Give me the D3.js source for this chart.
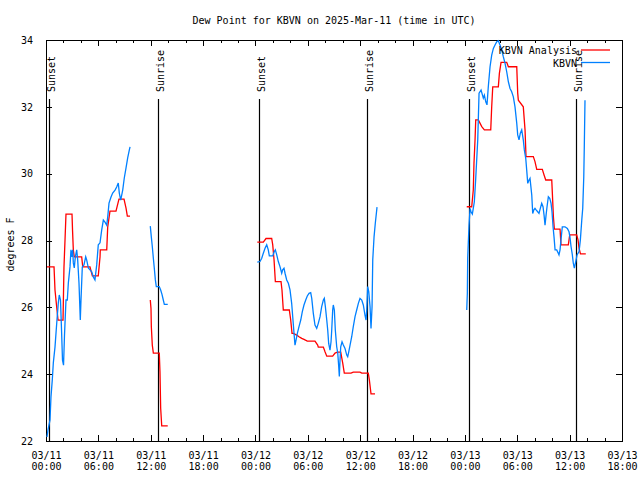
<!DOCTYPE html>
<html><head><meta charset="utf-8">
<script src="https://cdn.jsdelivr.net/npm/d3@7"></script>
<style>body{margin:0;background:#fff}text{font-family:"DejaVu Sans Mono",monospace;font-size:10px;fill:#000}</style>
</head><body><svg id="c" width="640" height="480"></svg>
<script>
const title = "Dew Point for KBVN on 2025-Mar-11 (time in UTC)";
const yLabel = "degrees F";
const seriesNames = ["KBVN Analysis", "KBVN"];
const xTickDates = ["03/11","03/11","03/11","03/11","03/12","03/12","03/12","03/12","03/13","03/13","03/13","03/13"];
const xTickTimes = ["00:00","06:00","12:00","18:00","00:00","06:00","12:00","18:00","00:00","06:00","12:00","18:00"];
const yTicks = [22,24,26,28,30,32,34];
const sunLabels = ["Sunset","Sunrise","Sunset","Sunrise","Sunset","Sunrise"];
const sunHours = [0.38,12.86,24.45,36.8,48.5,60.77];

// hours since 03/11 00:00 UTC; null breaks the line
const anaHours = [0.11,0.92,1.03,1.26,1.38,1.95,2.06,2.18,2.29,2.98,3.04,3.13,3.24,4.09,4.21,5.04,5.31,5.99,6.19,6.22,6.96,7.07,7.33,8.02,8.36,8.94,9.17,9.32,9.63,
 null,
 11.95,12.03,12.07,12.18,12.30,12.98,13.06,13.14,13.26,13.95,
 null,
 24.21,24.90,25.21,25.86,25.98,26.13,26.28,26.93,27.04,27.19,27.88,28.04,28.19,28.34,28.73,28.99,29.30,29.56,29.94,30.82,31.13,31.20,31.78,31.97,32.17,32.85,33.12,33.38,33.77,34.00,34.18,34.95,35.21,35.98,36.18,36.93,37.05,37.24,37.70,
 null,
 48.21,48.78,48.96,49.04,49.16,49.24,49.54,49.93,50.23,50.96,51.07,51.19,51.83,51.95,52.14,52.79,52.98,53.94,54.05,54.12,54.69,54.89,55.00,55.84,56.03,56.23,56.87,57.07,57.26,57.95,58.02,58.14,58.25,58.90,59.01,59.85,60.01,60.81,60.96,61.08,61.24,61.85];
const anaDew = [27.21,27.21,26.52,25.92,25.62,25.62,27.21,28.02,28.79,28.79,28.31,27.72,27.51,27.51,27.21,27.21,26.94,26.94,27.51,27.72,27.72,28.40,28.88,28.88,29.24,29.24,28.97,28.73,28.73,
 null,
 26.22,25.97,25.42,24.87,24.63,24.63,24.07,22.98,22.45,22.45,
 null,
 27.95,27.95,28.06,28.06,27.87,27.42,26.77,26.77,26.52,25.92,25.92,25.62,25.22,25.22,25.17,25.12,25.07,25.04,24.99,24.99,24.87,24.81,24.81,24.67,24.54,24.54,24.63,24.66,24.66,24.33,24.03,24.03,24.06,24.06,24.03,24.03,23.83,23.41,23.41,
 null,
 29.01,29.01,29.51,30.31,31.01,31.61,31.61,31.41,31.31,31.31,32.00,32.60,32.60,33.00,33.33,33.33,33.20,33.20,32.41,32.20,32.00,31.31,30.51,30.51,30.36,30.13,30.13,29.96,29.81,29.81,29.41,28.71,28.34,28.34,27.87,27.87,28.17,28.17,28.02,27.77,27.60,27.60];

const obsHours = [0.11,0.23,0.46,0.57,0.72,0.84,1.03,1.23,1.41,1.52,1.66,1.78,1.89,2.01,2.12,2.29,2.44,2.56,2.75,2.86,2.98,3.06,3.13,3.24,3.36,3.52,3.63,3.78,3.93,4.01,4.16,4.35,4.55,4.66,4.85,5.04,5.24,5.42,5.61,5.81,5.99,6.19,6.38,6.57,6.76,6.96,7.07,7.22,7.45,7.64,7.91,8.10,8.28,8.40,8.56,8.79,8.97,9.17,9.36,9.55,9.63,
 null,
 11.95,12.07,12.18,12.30,12.41,12.53,12.64,12.98,13.14,13.29,13.44,13.56,13.95,
 null,
 24.21,24.52,24.72,24.90,25.10,25.29,25.47,25.59,25.98,26.16,26.28,26.44,26.62,26.81,27.01,27.12,27.27,27.39,27.58,27.77,27.96,28.15,28.27,28.42,28.53,28.65,28.80,28.99,29.19,29.37,29.56,29.76,29.94,30.14,30.33,30.45,30.63,30.82,31.02,31.20,31.40,31.59,31.78,31.89,32.01,32.17,32.28,32.39,32.54,32.66,32.74,32.85,32.92,33.04,33.15,33.31,33.43,33.54,33.61,33.69,33.77,33.92,34.07,34.26,34.46,34.57,34.69,34.84,35.03,35.21,35.41,35.60,35.79,35.98,36.18,36.36,36.55,36.67,36.75,36.86,36.98,37.13,37.24,37.36,37.44,37.59,37.73,37.93,
 null,
 48.21,48.28,48.32,48.47,48.59,48.70,48.85,48.96,49.08,49.24,49.35,49.47,49.62,49.85,50.11,50.23,50.39,50.53,50.68,50.88,51.07,51.26,51.45,51.65,51.83,52.02,52.22,52.40,52.60,52.79,52.98,53.17,53.36,53.55,53.74,53.94,54.05,54.20,54.35,54.51,54.69,54.81,54.97,55.08,55.20,55.35,55.46,55.66,55.77,55.89,56.03,56.18,56.34,56.49,56.64,56.80,56.95,57.07,57.18,57.30,57.41,57.56,57.72,57.87,57.98,58.10,58.21,58.33,58.52,58.70,58.78,58.90,59.01,59.16,59.47,59.74,59.93,60.05,60.16,60.31,60.42,60.54,60.70,60.85,61.08,61.23,61.39,61.50,61.62,61.68,61.76];
const obsDew = [22.12,22.33,22.63,23.32,23.83,24.34,24.81,25.53,26.13,26.37,26.22,25.32,24.42,24.27,25.17,26.22,26.22,26.73,27.21,27.72,27.51,27.72,27.33,27.18,27.51,27.72,27.42,26.73,25.62,26.22,27.21,27.27,27.51,27.42,27.18,27.12,27.06,26.91,26.82,27.27,27.87,27.93,28.31,28.61,28.55,28.46,28.70,29.12,29.30,29.42,29.51,29.60,29.72,29.42,29.21,29.51,29.87,30.17,30.47,30.71,30.80,
 null,
 28.43,28.10,27.82,27.47,27.17,26.82,26.62,26.62,26.52,26.39,26.22,26.09,26.09,
 null,
 27.35,27.37,27.47,27.62,27.77,27.87,27.72,27.54,27.54,27.67,27.72,27.57,27.37,27.22,27.02,27.12,27.17,27.02,26.82,26.72,26.52,26.12,25.72,25.22,24.87,25.02,25.22,25.42,25.62,25.87,26.07,26.22,26.34,26.42,26.44,26.27,25.82,25.47,25.37,25.52,25.72,26.02,26.22,26.27,26.02,25.62,25.32,24.92,24.72,24.97,25.32,25.92,26.07,25.92,25.32,24.82,24.63,24.23,23.93,24.42,24.82,24.97,24.87,24.77,24.57,24.52,24.67,24.87,25.12,25.42,25.72,25.92,26.12,26.27,26.22,26.07,25.77,25.62,25.92,26.62,26.47,26.02,25.37,26.02,27.42,28.11,28.51,29.00,
 null,
 25.92,26.42,27.47,28.46,28.96,28.86,28.79,28.96,29.16,29.86,30.41,31.01,32.41,32.50,32.26,32.35,32.15,32.06,32.60,33.20,33.55,33.75,33.85,33.95,33.98,33.85,33.70,33.50,33.30,33.05,32.75,32.55,32.45,32.30,32.00,31.51,31.16,31.01,31.21,31.31,31.01,30.71,30.46,30.11,29.71,29.81,29.86,29.36,28.81,28.91,28.96,28.91,28.86,28.81,28.96,29.11,29.01,28.76,28.46,28.76,29.01,29.31,29.26,29.11,28.86,28.41,28.11,27.72,27.72,27.62,27.57,27.72,28.02,28.41,28.41,28.36,28.26,28.07,27.82,27.57,27.32,27.17,27.37,27.57,27.67,28.02,28.61,28.96,29.91,30.81,32.20];

const svg = d3.select("#c");
const L = 46, R = 622, T = 40, B = 441;
const x = d3.scaleLinear().domain([0, 66]).range([L, R]);
const y = d3.scaleLinear().domain([22, 34]).range([B, T]);

svg.append("rect").attr("width",640).attr("height",480).attr("fill","#fff");

// title
svg.append("text").attr("x",(L+R)/2).attr("y",24).attr("text-anchor","middle").text(title);
svg.append("text").attr("transform",`translate(14,${(T+B)/2+4}) rotate(-90)`).attr("text-anchor","middle").text(yLabel);

const majorX = d3.range(0, 67, 6);
const minorX = d3.range(0, 67, 2).filter(h => h % 6 !== 0);

// bottom axis
const gB = svg.append("g").attr("transform",`translate(0,${B})`)
  .call(d3.axisBottom(x).tickValues(majorX).tickSizeInner(-6).tickSizeOuter(0).tickPadding(0).tickFormat(""));
gB.selectAll(".tick").each(function(d,i){
  const t = d3.select(this).append("text").attr("text-anchor","middle").attr("fill","#000").style("font-size","10px");
  t.append("tspan").attr("x",0).attr("y",18).text(xTickDates[i]);
  t.append("tspan").attr("x",0).attr("y",29).text(xTickTimes[i]);
});
svg.append("g").attr("transform",`translate(0,${B})`)
  .call(d3.axisBottom(x).tickValues(minorX).tickSizeInner(-3).tickSizeOuter(0).tickFormat(""));
// top axis
svg.append("g").attr("transform",`translate(0,${T})`)
  .call(d3.axisTop(x).tickValues(majorX).tickSizeInner(-6).tickSizeOuter(0).tickFormat(""));
svg.append("g").attr("transform",`translate(0,${T})`)
  .call(d3.axisTop(x).tickValues(minorX).tickSizeInner(-3).tickSizeOuter(0).tickFormat(""));
// left & right axis
svg.append("g").attr("transform",`translate(${L},0)`)
  .call(d3.axisLeft(y).tickValues(yTicks).tickSizeInner(-6).tickSizeOuter(0).tickPadding(13).tickFormat(d3.format("d")));
svg.append("g").attr("transform",`translate(${R},0)`)
  .call(d3.axisRight(y).tickValues(yTicks).tickSizeInner(-6).tickSizeOuter(0).tickFormat(""));
svg.selectAll(".domain").remove();
svg.selectAll(".tick line").attr("stroke","#000").attr("shape-rendering","crispEdges");
svg.selectAll(".tick text").attr("fill","#000").style("font-family","DejaVu Sans Mono").style("font-size","10px");

// frame
svg.append("rect").attr("x",L).attr("y",T).attr("width",R-L).attr("height",B-T)
  .attr("fill","none").attr("stroke","#000").attr("shape-rendering","crispEdges");

// sunrise / sunset
const sg = svg.append("g");
sunHours.forEach((h,i)=>{
  const px = Math.round(x(h)) + 0.5;
  sg.append("line").attr("x1",px).attr("x2",px).attr("y1",y(22)).attr("y2",99)
    .attr("stroke","#000").attr("stroke-width",1.2);
  sg.append("text").attr("transform",`translate(${px+5},92) rotate(-90)`).attr("text-anchor","start").text(sunLabels[i]);
});

function series(hours, vals){ return hours.map((h,i)=>({h, v: vals[i]})); }
const line = d3.line().defined(d => d.h != null && d.v != null).x(d => x(d.h)).y(d => y(d.v));

svg.append("path").datum(series(anaHours, anaDew)).attr("d", line)
  .attr("fill","none").attr("stroke","#ff0000").attr("stroke-width",1.3);
svg.append("path").datum(series(obsHours, obsDew)).attr("d", line)
  .attr("fill","none").attr("stroke","#0080ff").attr("stroke-width",1.3);

// legend
const colors = ["#ff0000","#0080ff"];
seriesNames.forEach((n,i)=>{
  const ly = 50 + i*12.5;
  svg.append("text").attr("x",577).attr("y",ly+4).attr("text-anchor","end").text(n);
  svg.append("line").attr("x1",581).attr("x2",610).attr("y1",ly).attr("y2",ly)
    .attr("stroke",colors[i]).attr("stroke-width",1.3);
});
</script></body></html>
